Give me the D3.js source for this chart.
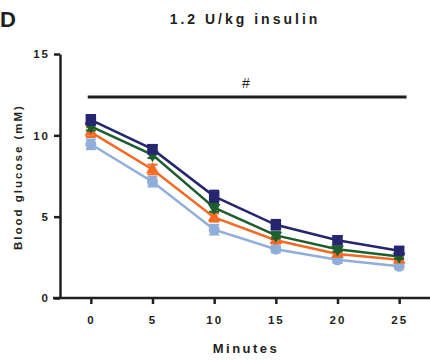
<!DOCTYPE html>
<html>
<head>
<meta charset="utf-8">
<script src="https://cdn.jsdelivr.net/npm/d3@7"></script>
<style>
  body { margin: 0; background: #fff; }
  text { font-family: "Liberation Sans", Arial, sans-serif; font-weight: bold; fill: #231f20; }
</style>
</head>
<body>
<svg id="canvas" width="430" height="360"></svg>
<script>
// time points (minutes) and the four groups, drawn back to front
let minutes = [0, 5, 10, 15, 20, 25];
let yTicks = [0, 5, 10, 15];

let lightBlue = [9.45, 7.15, 4.2, 3.0, 2.35, 1.95];
let lightBlueErr = [0.3, 0.3, 0.3, 0.2, 0.2, 0.15];
let orange = [10.2, 7.9, 4.95, 3.55, 2.7, 2.35];
let orangeErr = [0.3, 0.3, 0.25, 0.2, 0.15, 0.15];
let green = [10.55, 8.8, 5.55, 3.85, 3.0, 2.55];
let greenErr = [0.25, 0.2, 0.25, 0.2, 0.15, 0.15];
let navy = [10.95, 9.15, 6.25, 4.5, 3.55, 2.9];
let navyErr = [0.3, 0.25, 0.35, 0.3, 0.25, 0.2];

let series = [
  { values: lightBlue, err: lightBlueErr, color: "#8fafda", shape: "circle" },
  { values: orange, err: orangeErr, color: "#f26a23", shape: "up" },
  { values: green, err: greenErr, color: "#1d5e2e", shape: "down" },
  { values: navy, err: navyErr, color: "#25266f", shape: "square" }
];

let canvas = d3.select("#canvas");

let xScale = d3.scaleLinear().domain([-2.5, 27.5]).range([60, 430]);
let yScale = d3.scaleLinear().domain([0, 15]).range([298, 54]);

// axes
let xAxis = d3.axisBottom(xScale).tickValues(minutes).tickSize(6).tickSizeOuter(0).tickPadding(12);
let yAxis = d3.axisLeft(yScale).tickValues(yTicks).tickSize(6).tickSizeOuter(0).tickPadding(4);

let gx = canvas.append("g").attr("transform", "translate(0,298)").call(xAxis);
let gy = canvas.append("g").attr("transform", "translate(60,0)").call(yAxis);

[gx, gy].forEach((g) => {
  g.select(".domain").attr("stroke", "#231f20").attr("stroke-width", 2.5);
  g.selectAll(".tick line").attr("stroke", "#231f20").attr("stroke-width", 2.5);
  g.selectAll(".tick text")
    .attr("font-size", 11.5)
    .style("letter-spacing", "2px")
    .attr("fill", "#231f20");
});
// x axis line starts under the y tick
gx.select(".domain").attr("d", "M53,0H430");

// lines, error bars, markers
let line = d3.line()
  .x((d, i) => xScale(minutes[i]))
  .y((d) => yScale(d));

series.forEach((s) => {
  canvas.append("path")
    .attr("d", line(s.values))
    .attr("fill", "none")
    .attr("stroke", s.color)
    .attr("stroke-width", 2.5);

  let g = canvas.append("g");
  s.values.forEach((v, i) => {
    let cx = xScale(minutes[i]);
    let top = yScale(v + s.err[i]);
    let bot = yScale(v - s.err[i]);
    g.append("line").attr("x1", cx).attr("x2", cx).attr("y1", top).attr("y2", bot)
      .attr("stroke", s.color).attr("stroke-width", 2);
    [top, bot].forEach((yy) => {
      g.append("line").attr("x1", cx - 5).attr("x2", cx + 5).attr("y1", yy).attr("y2", yy)
        .attr("stroke", s.color).attr("stroke-width", 2);
    });

    let sym;
    if (s.shape === "up" || s.shape === "down") {
      sym = d3.symbol().type(d3.symbolTriangle).size(70)();
    } else if (s.shape === "square") {
      sym = d3.symbol().type(d3.symbolSquare).size(110)();
    } else {
      sym = d3.symbol().type(d3.symbolCircle).size(95)();
    }
    let rot = s.shape === "down" ? " rotate(180)" : "";
    g.append("path")
      .attr("d", sym)
      .attr("transform", "translate(" + cx + "," + yScale(v) + ")" + rot)
      .attr("fill", s.color);
  });
});

// significance bar
canvas.append("line")
  .attr("x1", xScale(-0.25)).attr("x2", xScale(25.6))
  .attr("y1", 97).attr("y2", 97)
  .attr("stroke", "#231f20").attr("stroke-width", 3);
canvas.append("text")
  .attr("x", 246).attr("y", 88)
  .attr("text-anchor", "middle")
  .attr("font-size", 14)
  .style("font-weight", "normal")
  .text("#");

// titles
canvas.append("text")
  .attr("x", 0).attr("y", 27)
  .attr("font-size", 22)
  .text("D");

canvas.append("text")
  .attr("x", 245).attr("y", 24)
  .attr("text-anchor", "middle")
  .attr("font-size", 14)
  .style("letter-spacing", "3px")
  .text("1.2 U/kg insulin");

canvas.append("text")
  .attr("x", 246).attr("y", 353)
  .attr("text-anchor", "middle")
  .attr("font-size", 13)
  .style("letter-spacing", "2.5px")
  .text("Minutes");

canvas.append("text")
  .attr("transform", "translate(22,177) rotate(-90)")
  .attr("text-anchor", "middle")
  .attr("font-size", 11.5)
  .style("letter-spacing", "2px")
  .text("Blood glucose (mM)");
</script>
</body>
</html>
